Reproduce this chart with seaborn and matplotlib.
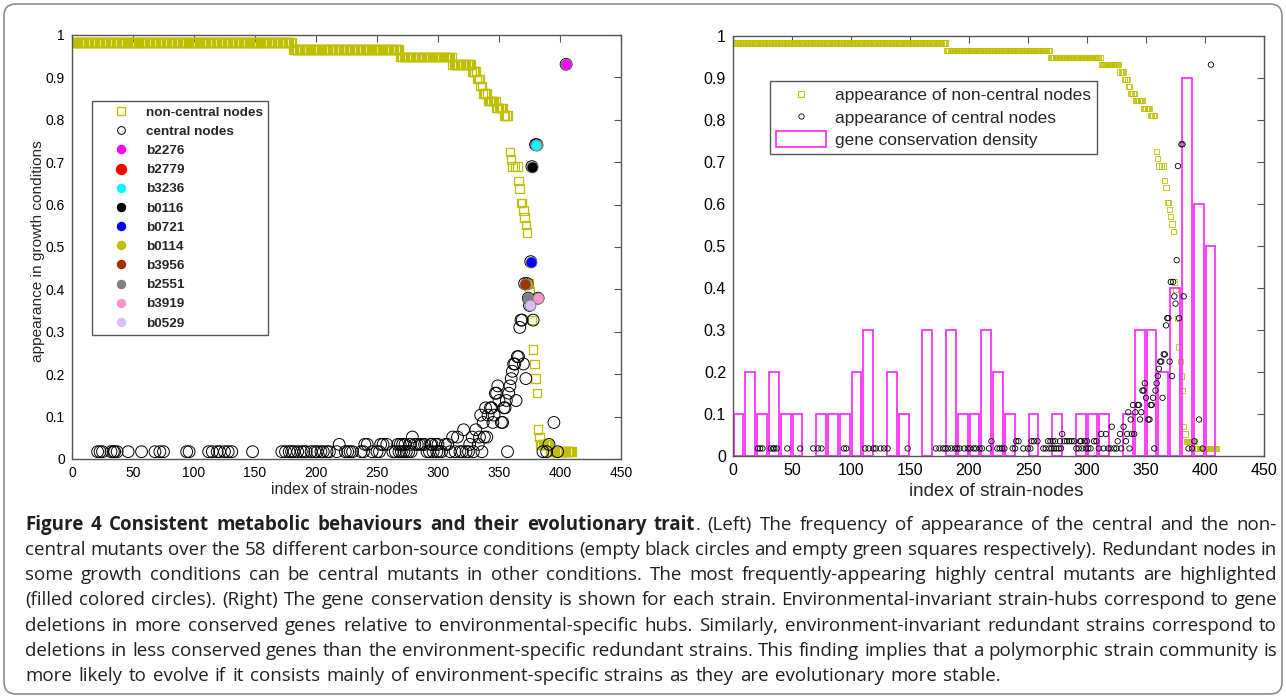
import numpy as np
import matplotlib
matplotlib.use('Agg')
import matplotlib.pyplot as plt
from matplotlib.lines import Line2D
from matplotlib.patches import Patch, FancyBboxPatch
from matplotlib.transforms import IdentityTransform
import seaborn as sns

N_COND = 58  # number of carbon-source conditions

# non-central nodes, runs of consecutive strain indices (first, last, conditions out of 58)
sq_run_first = [1, 181, 269, 312, 328, 332, 335, 337, 341, 348, 354, 384, 392]
sq_run_last = [180, 268, 311, 327, 331, 334, 336, 340, 347, 353, 357, 391, 410]
sq_run_level = [57, 56, 55, 54, 53, 52, 51, 50, 49, 48, 47, 2, 1]

# non-central nodes, single points in the steep part
sq_tail_idx = [359, 360, 361, 363, 365, 366, 367, 368, 369, 370, 371, 372, 373,
               374, 375, 377, 378, 379, 380, 381, 382, 383]
sq_tail_level = [42, 41, 40, 40, 40, 38, 37, 35, 35, 34, 33, 32, 31,
                 24, 23, 19, 15, 13, 11, 9, 4, 3]

# central nodes appearing in 1, 2, 3, 4 conditions
c_level1 = [21, 23, 25, 32, 34, 35, 37, 46, 57, 68, 72, 75, 94, 96, 112, 115, 119,
            121, 125, 128, 131, 148, 172, 175, 178, 180, 182, 185, 188, 190, 192,
            196, 199, 201, 204, 206, 209, 211, 217, 224, 226, 228, 230, 237, 239,
            246, 250, 252, 263, 265, 268, 270, 272, 274, 276, 278, 291, 293, 296,
            299, 301, 303, 310, 314, 318, 320, 323, 325, 329, 336, 357, 386, 389, 398]
c_level2 = [219, 240, 242, 253, 255, 258, 267, 269, 271, 273, 277, 281, 283, 285,
            287, 289, 294, 295, 298, 300, 306, 308, 326, 333, 391]
c_level3 = [279, 312, 316, 328, 334, 338, 340]
c_level4 = [321, 331]

# central nodes in the rising part (index, conditions out of 58)
c_rise_idx = [335, 337, 339, 341, 343, 344, 346, 345, 347, 348, 349, 350, 352, 353,
              354, 355, 356, 358, 359, 360, 361, 362, 363, 364, 365, 366, 367, 368,
              369, 370, 371, 372, 373, 374, 375, 376, 378, 382, 395, 377, 380, 381, 405]
c_rise_level = [6, 5, 7, 6, 7, 7, 6, 5, 9, 9, 10, 8, 5, 5,
                7, 7, 8, 9, 10, 11, 12, 13, 13, 8, 14, 14, 18, 19,
                19, 13, 24, 11, 24, 22, 21, 27, 19, 22, 5, 40, 43, 43, 54]

# most frequently appearing highly central mutants
hub_names = ['b2276', 'b2779', 'b3236', 'b0116', 'b0721',
             'b0114', 'b3956', 'b2551', 'b3919', 'b0529']
hub_idx = [405, 381, 380, 377, 376, 373, 371, 374, 382, 375]
hub_level = [54, 43, 43, 40, 27, 24, 24, 22, 22, 21]

# gene conservation density, bins of 10 strains
bar_bins = list(range(0, 410, 10))
bar_heights = [0.1, 0.2, 0.1, 0.2, 0.1, 0.1, 0, 0.1, 0.1, 0.1, 0.2, 0.3, 0, 0.2,
               0.1, 0, 0.3, 0, 0.3, 0.1, 0.1, 0.3, 0.2, 0.1, 0, 0.1, 0, 0.1, 0,
               0.1, 0.1, 0.1, 0, 0.1, 0.3, 0.3, 0.2, 0.4, 0.9, 0.6, 0.5]

x_ticks = [0, 50, 100, 150, 200, 250, 300, 350, 400, 450]
y_ticks = [0, 0.1, 0.2, 0.3, 0.4, 0.5, 0.6, 0.7, 0.8, 0.9, 1.0]
y_tick_labels = ['0', '0.1', '0.2', '0.3', '0.4', '0.5', '0.6', '0.7', '0.8', '0.9', '1']

caption_bold = 'Figure 4 Consistent metabolic behaviours and their evolutionary trait'
caption_lines = [
    '. (Left) The frequency of appearance of the central and the non-',
    'central mutants over the 58 different carbon-source conditions (empty black circles and empty green squares respectively). Redundant nodes in',
    'some growth conditions can be central mutants in other conditions. The most frequently-appearing highly central mutants are highlighted',
    '(filled colored circles). (Right) The gene conservation density is shown for each strain. Environmental-invariant strain-hubs correspond to gene',
    'deletions in more conserved genes relative to environmental-specific hubs. Similarly, environment-invariant redundant strains correspond to',
    'deletions in less conserved genes than the environment-specific redundant strains. This finding implies that a polymorphic strain community is',
    'more likely to evolve if it consists mainly of environment-specific strains as they are evolutionary more stable.',
]

# ---- styles ----
OLIVE = '#bfbf00'
MAGENTA = '#ff33ff'
FRAME = '#555555'
HUB_COLORS = {'b2276': '#ff00ff', 'b2779': '#ff0000', 'b3236': '#00ffff',
              'b0116': '#000000', 'b0721': '#0000ff', 'b0114': '#bfbf00',
              'b3956': '#a03200', 'b2551': '#808080', 'b3919': '#ff96c8',
              'b0529': '#dcbcfa'}
CAP_FONT = 'Open Sans'

sns.set_theme(style='white')
plt.rcParams['font.family'] = ['Liberation Sans', 'DejaVu Sans']

W, H = 1286, 698
fig = plt.figure(figsize=(W / 100, H / 100), dpi=100)


def px_axes(x0, y_top, x1, y_bot):
    return fig.add_axes([x0 / W, 1 - y_bot / H, (x1 - x0) / W, (y_bot - y_top) / H])


ax_l = px_axes(72, 35, 621, 459)
ax_r = px_axes(733, 35.7, 1264, 455.7)

# expand the data
sq_x = np.concatenate([np.arange(a, b + 1) for a, b in zip(sq_run_first, sq_run_last)]
                      + [np.array(sq_tail_idx)])
sq_y = np.concatenate([np.full(b - a + 1, lv) for a, b, lv in zip(sq_run_first, sq_run_last, sq_run_level)]
                      + [np.array(sq_tail_level)]) / N_COND
c_x = np.array(c_level1 + c_level2 + c_level3 + c_level4 + c_rise_idx)
c_y = np.array([1] * len(c_level1) + [2] * len(c_level2) + [3] * len(c_level3)
               + [4] * len(c_level4) + c_rise_level) / N_COND

# ---- left panel ----
sns.scatterplot(x=sq_x, y=sq_y, marker='s', s=38, color='none', edgecolor=OLIVE,
                linewidth=0.9, ax=ax_l, legend=False, zorder=2)
sns.scatterplot(x=c_x, y=c_y, marker='o', s=72, color='none', edgecolor='black',
                linewidth=0.7, ax=ax_l, legend=False, zorder=3)
for name, xi, lv in zip(hub_names, hub_idx, hub_level):
    sns.scatterplot(x=[xi], y=[lv / N_COND], marker='o', s=62, color=HUB_COLORS[name],
                    edgecolor='#808080', linewidth=0.6, ax=ax_l, legend=False, zorder=4)

handles = [
    Line2D([], [], ls='', marker='s', ms=5.2, mfc='none', mec=OLIVE, mew=1.0, label='non-central nodes'),
    Line2D([], [], ls='', marker='o', ms=5.6, mfc='none', mec='black', mew=0.7, label='central nodes'),
]
for name in hub_names:
    ms = 7.2 if name == 'b2779' else 5.8
    handles.append(Line2D([], [], ls='', marker='o', ms=ms, mfc=HUB_COLORS[name],
                          mec=HUB_COLORS[name], label=name))
leg = ax_l.legend(handles=handles, loc='upper left', bbox_to_anchor=(91.7 / W, 1 - 101 / H),
                  bbox_transform=fig.transFigure, frameon=True, fancybox=False,
                  edgecolor=FRAME, framealpha=1, borderpad=0.4, labelspacing=0.5,
                  handlelength=3.5, handletextpad=0.1, borderaxespad=0,
                  prop={'weight': 'bold', 'size': 9.7})
leg.get_frame().set_linewidth(1.0)

# ---- right panel ----
bar_x = [b + 4.6 for b, h in zip(bar_bins, bar_heights) if h > 0]
bar_h = [h for h in bar_heights if h > 0]
ax_r.bar(bar_x, bar_h, width=8.3, fill=False, edgecolor=MAGENTA, linewidth=1.3, zorder=2)
sns.scatterplot(x=sq_x, y=sq_y, marker='s', s=14, color='none', edgecolor=OLIVE,
                linewidth=0.6, ax=ax_r, legend=False, zorder=1.5)
sns.scatterplot(x=c_x, y=c_y, marker='o', s=15, color='none', edgecolor='black',
                linewidth=0.6, ax=ax_r, legend=False, zorder=3)

handles_r = [
    Line2D([], [], ls='', marker='s', ms=3.8, mfc='none', mec=OLIVE, mew=0.8,
           label='appearance of non-central nodes'),
    Line2D([], [], ls='', marker='o', ms=3.8, mfc='none', mec='black', mew=0.6,
           label='appearance of central nodes'),
    Patch(facecolor='none', edgecolor=MAGENTA, linewidth=1.3, label='gene conservation density'),
]
leg_r = ax_r.legend(handles=handles_r, loc='upper left', bbox_to_anchor=(770 / W, 1 - 80.7 / H),
                    bbox_transform=fig.transFigure, frameon=True, fancybox=False,
                    edgecolor=FRAME, framealpha=1, borderpad=0.35, labelspacing=0.31,
                    handlelength=2.9, handleheight=1.0, handletextpad=0.5,
                    borderaxespad=0, prop={'size': 12.5})
leg_r.get_frame().set_linewidth(1.0)

for ax, tsize in ((ax_l, 10), (ax_r, 11.5)):
    ax.set_xlim(0, 450)
    ax.set_ylim(0, 1)
    ax.set_xticks(x_ticks)
    ax.set_xticklabels([str(t) for t in x_ticks])
    ax.set_yticks(y_ticks)
    ax.set_yticklabels(y_tick_labels)
    ax.tick_params(direction='in', top=True, right=True, length=5, width=0.8,
                   color=FRAME, labelsize=tsize, pad=5, labelcolor='black')
    for sp in ax.spines.values():
        sp.set_color(FRAME)
        sp.set_linewidth(1.0)
    ax.set_xlabel('')
    ax.set_ylabel('')

# axis titles
fig.text(344 / W, 1 - 489 / H, 'index of strain-nodes', ha='center', va='center', fontsize=11.3)
fig.text(996 / W, 1 - 492 / H, 'index of strain-nodes', ha='center', va='center', fontsize=13.6)
fig.text(38 / W, 1 - 251 / H, 'appearance in growth conditions', ha='center', va='center',
         rotation=90, fontsize=11.1)

# rounded outer border
fig.add_artist(FancyBboxPatch((4, 4), W - 8, H - 8, boxstyle='round,pad=0,rounding_size=12',
                              transform=IdentityTransform(), fill=False, ec='#8c8c8c', lw=1.2))

# caption, justified like the source
renderer = fig.canvas.get_renderer()
CAP_X0, CAP_X1 = 25, 1277


def measure(text, weight, size):
    t = fig.text(0, 0, text, transform=IdentityTransform(), fontsize=size,
                 fontweight=weight, family=CAP_FONT, va='baseline', ha='left', color='#231f20')
    return t, t.get_window_extent(renderer).width


def tokenize(segments):
    tokens = []
    for text, weight in segments:
        for k, word in enumerate(text.split(' ')):
            if word == '':
                continue
            if k == 0 and tokens and not text.startswith(' '):
                tokens[-1].append((word, weight))
            else:
                tokens.append([(word, weight)])
    return tokens


line_tokens = []
for i, line in enumerate(caption_lines):
    segs = [(caption_bold, 'bold'), (line, 'normal')] if i == 0 else [(line, 'normal')]
    line_tokens.append(tokenize(segs))

# pick the largest size (up to 13.5 pt) at which every justified line keeps a decent gap
t_sp1, w_sp1 = measure('a a', 'normal', 12)
t_sp2, w_sp2 = measure('aa', 'normal', 12)
space12 = w_sp1 - w_sp2
t_sp1.remove()
t_sp2.remove()
scales = []
for tokens in line_tokens[:-1]:
    words_w = 0
    for tok in tokens:
        for text, weight in tok:
            t, w = measure(text, weight, 12)
            t.remove()
            words_w += w
    scales.append((CAP_X1 - CAP_X0) / (words_w + 0.95 * space12 * (len(tokens) - 1)))
cap_size = min(12 * min(scales), 13.5)

gaps = []
for i, tokens in enumerate(line_tokens):
    placed = []
    for tok in tokens:
        placed.append([measure(text, weight, cap_size) for text, weight in tok])
    widths = [sum(w for _, w in tok) for tok in placed]
    if i < len(line_tokens) - 1:
        gap = (CAP_X1 - CAP_X0 - sum(widths)) / (len(placed) - 1)
        gaps.append(gap)
    else:
        gap = float(np.mean(gaps))
    x = CAP_X0
    y = H - (530 + 25.15 * i)
    for tok, w in zip(placed, widths):
        xx = x
        for t, ww in tok:
            t.set_position((xx, y))
            xx += ww
        x += w + gap

fig.savefig('out.png', dpi=100)
